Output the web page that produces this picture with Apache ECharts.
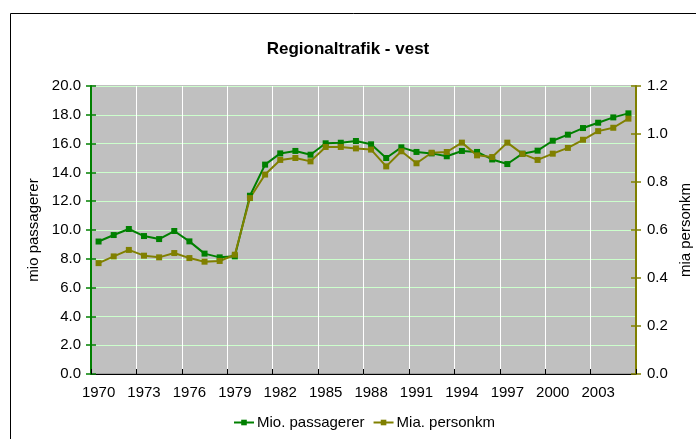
<!DOCTYPE html>
<html>
	<head>
		<meta charset="utf-8">
		<title>Regionaltrafik - vest</title>
	</head>
	<body style="margin:0;background:#fff;">
		<div id='chart' style="width:696px;height:439px;"></div>
	</body>
	<script src='https://cdn.jsdelivr.net/npm/echarts@6/dist/echarts.min.js'></script>
	<script>

	// data
	var years = [];
	for (var y = 1970; y <= 2005; y++) years.push(String(y));

	var passagerer = [9.2, 9.65, 10.07, 9.58, 9.37, 9.93, 9.21, 8.36, 8.10, 8.17,
		12.38, 14.54, 15.32, 15.49, 15.23, 16.02, 16.06, 16.18, 15.95, 15.0,
		15.74, 15.42, 15.32, 15.12, 15.49, 15.42, 14.9, 14.58, 15.30, 15.51,
		16.20, 16.62, 17.08, 17.45, 17.82, 18.10];

	var personkm = [0.462, 0.490, 0.517, 0.493, 0.486, 0.504, 0.483, 0.468, 0.471, 0.497,
		0.733, 0.831, 0.892, 0.900, 0.886, 0.946, 0.946, 0.940, 0.935, 0.865,
		0.928, 0.878, 0.922, 0.925, 0.964, 0.911, 0.904, 0.964, 0.917, 0.892,
		0.918, 0.942, 0.976, 1.012, 1.026, 1.064];

	var green = '#008000';
	var olive = '#808000';
	var font = 'Liberation Sans, Arial, sans-serif';

	function fmt(v) { return v.toFixed(1); }

	// second copy of an axis, only to draw the inner half of the "cross" ticks
	function innerTicks(base, color) {
		var a = {};
		for (var k in base) a[k] = base[k];
		a.name = '';
		a.axisLine = { show: false };
		a.axisLabel = { show: false };
		a.splitLine = { show: false };
		a.axisTick = { show: true, inside: true, length: 5, lineStyle: { color: color, width: 1.5 } };
		return a;
	}

	var yLeft = {
		type: 'value',
		min: 0,
		max: 20,
		interval: 2,
		position: 'left',
		name: 'mio passagerer',
		nameLocation: 'middle',
		nameGap: 48,
		nameTextStyle: { fontSize: 15, color: '#000', fontFamily: font },
		axisLine: { show: true, lineStyle: { color: green, width: 2 } },
		axisTick: { show: true, length: 5, lineStyle: { color: green, width: 1.5 } },
		axisLabel: { color: '#000', fontSize: 15, margin: 10, fontFamily: font, formatter: fmt },
		splitLine: { show: true, lineStyle: { color: '#ccffcc', width: 1 } }
	};

	var yRight = {
		type: 'value',
		min: 0,
		max: 1.2,
		interval: 0.2,
		position: 'right',
		name: 'mia personkm',
		nameLocation: 'middle',
		nameGap: 41,
		nameRotate: 90,
		nameTextStyle: { fontSize: 15, color: '#000', fontFamily: font },
		axisLine: { show: true, lineStyle: { color: olive, width: 2 } },
		axisTick: { show: true, length: 5, lineStyle: { color: olive, width: 1.5 } },
		axisLabel: { color: '#000', fontSize: 15, margin: 11, fontFamily: font, formatter: fmt },
		splitLine: { show: false }
	};

	var xMain = {
		type: 'category',
		data: years,
		boundaryGap: true,
		position: 'bottom',
		axisLine: { lineStyle: { color: '#000', width: 1 } },
		axisTick: { interval: 2, length: 5, lineStyle: { color: '#000' } },
		axisLabel: { interval: 2, color: '#000', fontSize: 15, margin: 11, fontFamily: font },
		splitLine: { show: true, interval: 2, lineStyle: { color: '#ffffff', width: 1 } }
	};

	var xInner = innerTicks(xMain, '#000');
	xInner.axisTick.interval = 2;
	xInner.axisTick.lineStyle.width = 1;

	option = {
		animation: false,
		textStyle: { fontFamily: font },
		graphic: [{
			type: 'rect',
			shape: { x: 10.5, y: 13.5, width: 700, height: 440 },
			style: { fill: 'none', stroke: '#000', lineWidth: 1 },
			silent: true
		}],
		title: {
			text: 'Regionaltrafik - vest',
			left: 'center',
			top: 36,
			textStyle: { fontSize: 17, fontWeight: 'bold', color: '#000', fontFamily: font }
		},
		grid: {
			left: 91,
			right: 60,
			top: 86,
			bottom: 65,
			containLabel: false,
			outerBoundsMode: 'none',
			show: true,
			backgroundColor: '#c0c0c0',
			borderColor: '#808080',
			borderWidth: 1
		},
		legend: {
			top: 415,
			left: 233,
			itemWidth: 20,
			itemHeight: 7,
			itemGap: 8,
			padding: 0,
			textStyle: { fontSize: 15, color: '#000', fontFamily: font, padding: [0, 0, 0, -2] },
			data: ['Mio. passagerer', 'Mia. personkm']
		},
		xAxis: [xMain, xInner],
		yAxis: [yLeft, yRight, innerTicks(yLeft, green), innerTicks(yRight, olive)],
		series: [
			{
				name: 'Mio. passagerer',
				type: 'line',
				yAxisIndex: 0,
				data: passagerer,
				symbol: 'rect',
				symbolSize: 6,
				showAllSymbol: true,
				itemStyle: { color: green },
				lineStyle: { color: green, width: 2 }
			},
			{
				name: 'Mia. personkm',
				type: 'line',
				yAxisIndex: 1,
				data: personkm,
				symbol: 'rect',
				symbolSize: 6,
				showAllSymbol: true,
				itemStyle: { color: olive },
				lineStyle: { color: olive, width: 2 }
			}
		]
	};

	var chart = echarts.init(document.getElementById('chart'));
	chart.setOption(option);
	</script>
</html>
